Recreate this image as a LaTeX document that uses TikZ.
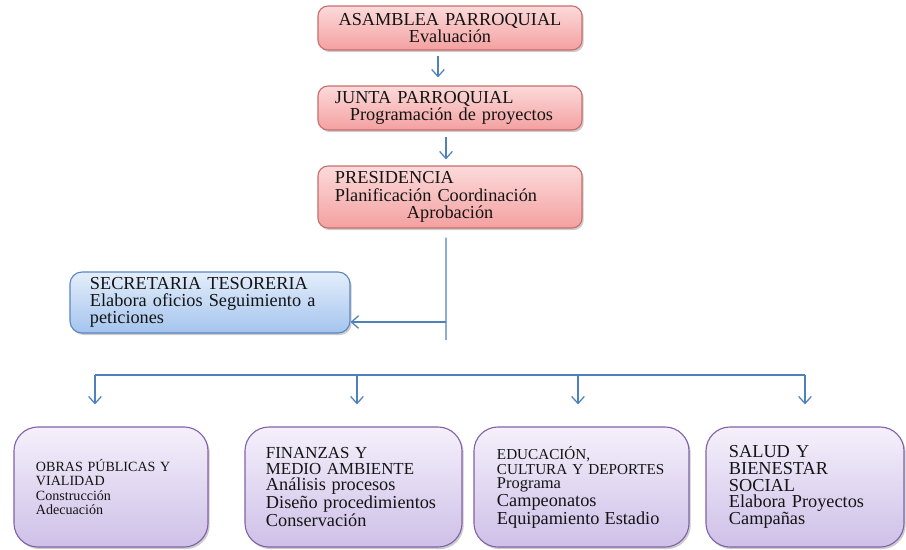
\documentclass[tikz,border=0pt]{standalone}
\usepackage{fontspec}
\setmainfont{Liberation Serif}
\usetikzlibrary{arrows.meta,shadows}
\definecolor{redtop}{HTML}{FCDADA}
\definecolor{redbot}{HTML}{F4A0A0}
\definecolor{redline}{HTML}{C86E6C}
\definecolor{bluetop}{HTML}{E4EEFB}
\definecolor{bluebot}{HTML}{A4C4EE}
\definecolor{blueline}{HTML}{5B86C0}
\definecolor{purtop}{HTML}{F5F0FB}
\definecolor{purbot}{HTML}{CEC0E8}
\definecolor{purline}{HTML}{8262A8}
\definecolor{arrblue}{HTML}{4F81BD}
\definecolor{ink}{HTML}{141414}
\begin{document}
\begin{tikzpicture}[x=0.025cm,y=-0.025cm,
    box/.style={draw, line width=0.8pt, text=ink, align=left,
        drop shadow={shadow xshift=1.2pt, shadow yshift=-1.5pt, fill=black!40}},
    redbox/.style={box, draw=redline, top color=redtop, bottom color=redbot,
        rounded corners=0.25cm, minimum width=6.6cm, inner xsep=0.425cm, text width=5.75cm,
        font=\fontsize{13}{12.3}\selectfont},
    bluebox/.style={box, draw=blueline, top color=bluetop, bottom color=bluebot,
        rounded corners=0.3cm, minimum width=7cm, minimum height=1.525cm,
        inner xsep=0.5cm, text width=6cm, font=\fontsize{13}{12}\selectfont},
    purbox/.style={box, draw=purline, top color=purtop, bottom color=purbot,
        rounded corners=0.6cm, minimum height=3cm},
    wire/.style={draw=arrblue, line width=0.9pt},
    arr/.style={wire, -{Straight Barb[length=5pt,width=9pt]}}]

    \useasboundingbox (0,0) rectangle (906,549);

    \node[redbox, minimum height=1.1cm, align=center] (asamblea) at (450,28)
        {ASAMBLEA PARROQUIAL\\Evaluación};
    \node[redbox, minimum height=1.1cm] (junta) at (450,108)
        {JUNTA PARROQUIAL\\\hspace*{0.375cm}Programación de proyectos};
    \node[redbox, minimum height=1.55cm] (presidencia) at (450,197)
        {PRESIDENCIA\\Planificación Coordinación\\\hspace*{1.8cm}Aprobación};
    \node[bluebox] (secretaria) at (210,302.5)
        {SECRETARIA TESORERIA\\Elabora oficios Seguimiento a\\peticiones};

    \node[purbox, minimum width=4.85cm, inner xsep=0.55cm, text width=3.75cm,
        font=\fontsize{10}{10}\selectfont] (obras) at (111,487)
        {OBRAS PÚBLICAS Y\\VIALIDAD\\Construcción\\Adecuación};
    \node[purbox, minimum width=5.425cm, inner xsep=0.525cm, text width=4.375cm,
        font=\fontsize{12}{11.5}\selectfont] (finanzas) at (353.5,487)
        {FINANZAS Y\\MEDIO AMBIENTE\\\fontsize{13}{11.5}\selectfont Análisis procesos\\
        Diseño procedimientos\\Conservación};
    \node[purbox, minimum width=5.375cm, inner xsep=0.575cm, text width=4.225cm,
        font=\fontsize{10.8}{10.6}\selectfont] (educacion) at (581.5,487)
        {EDUCACIÓN,\\CULTURA Y DEPORTES\\\fontsize{11.7}{10.6}\selectfont Programa\\
        \fontsize{13}{10.6}\selectfont Campeonatos\\Equipamiento Estadio};
    \node[purbox, minimum width=4.95cm, inner xsep=0.575cm, text width=3.8cm,
        font=\fontsize{13}{12}\selectfont] (salud) at (805,487)
        {SALUD Y\\BIENESTAR\\SOCIAL\\Elabora Proyectos\\Campañas};

    \coordinate (hub) at (446,340);
    \coordinate (tap) at (446,322);
    \coordinate (b1) at (95,375);
    \coordinate (b2) at (357,375);
    \coordinate (b3) at (578,375);
    \coordinate (b4) at (805,375);

    \draw[arr, shorten <=0.125cm, shorten >=0.2cm] ([xshift=-0.3cm]asamblea.south) -- ([xshift=-0.3cm]junta.north);
    \draw[arr, shorten <=0.15cm, shorten >=0.15cm] ([xshift=-0.1cm]junta.south) -- ([xshift=-0.1cm]presidencia.north);
    \draw[wire, shorten <=0.225cm] ([xshift=-0.1cm]presidencia.south) -- (hub);
    \draw[arr] (tap) -- (tap -| secretaria.east);
    \draw[wire] (b1) -- (b4);
    \foreach \b/\n in {b1/obras, b2/finanzas, b3/educacion, b4/salud}
        \draw[arr, shorten >=0.55cm] (\b) -- (\b |- \n.north);
\end{tikzpicture}
\end{document}
